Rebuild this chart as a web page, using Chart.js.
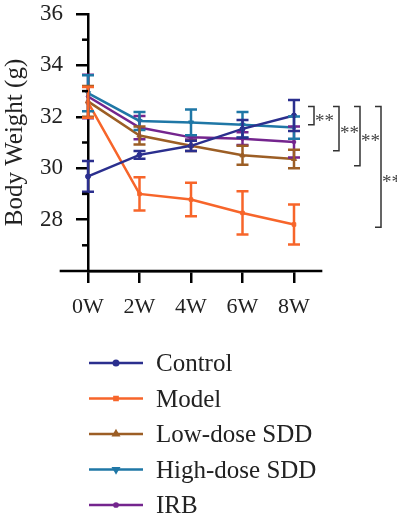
<!DOCTYPE html>
<html>
<head>
<meta charset="utf-8">
<script src="https://cdn.jsdelivr.net/npm/chart.js@4/dist/chart.umd.min.js"></script>
<style>
html,body{margin:0;padding:0;background:#fff;}
canvas{display:block;}
</style>
</head>
<body>
<canvas id="c" width="397" height="521"></canvas>
<script>
// ---- data ----
const weekLabels = ['0W', '2W', '4W', '6W', '8W'];
const seriesNames = ['Control', 'Model', 'Low-dose SDD', 'High-dose SDD', 'IRB'];
const controlMean = [29.68, 30.52, 30.87, 31.53, 32.05];
const controlErr  = [0.60, 0.15, 0.20, 0.35, 0.60];
const modelMean   = [32.56, 29.00, 28.78, 28.26, 27.81];
const modelErr    = [0.60, 0.65, 0.65, 0.84, 0.78];
const lowMean     = [32.60, 31.27, 30.87, 30.50, 30.36];
const lowErr      = [0.60, 0.35, 0.20, 0.37, 0.36];
const highMean    = [32.92, 31.84, 31.78, 31.69, 31.58];
const highErr     = [0.70, 0.35, 0.50, 0.50, 0.43];
const irbMean     = [32.79, 31.58, 31.20, 31.15, 31.02];
const irbErr      = [0.85, 0.45, 0.08, 0.25, 0.60];
const yTickValues = [28, 30, 32, 34, 36];
// significance brackets (data units)
const bracketTop    = [32.4, 32.4, 32.4, 32.4];
const bracketBottom = [31.69, 30.68, 30.10, 27.70];
const bracketStarY  = [32.0, 31.53, 31.2, 29.63];
const bracketText   = ['**', '**', '**', '**'];

// ---- styles ----
const colors = ['#2B2F8E', '#F7652A', '#9C5E25', '#1F77A6', '#74258E'];
const pointStyles = ['circle', 'rect', 'triangle', 'triangle', 'circle'];
const pointRot = [0, 0, 0, 180, 0];
const pointRad = [2.5, 2.5, 3, 3, 1.8];
const SERIF = '"Liberation Serif", "Times New Roman", serif';

const means = [controlMean, modelMean, lowMean, highMean, irbMean];
const errs = [controlErr, modelErr, lowErr, highErr, irbErr];

const datasets = seriesNames.map((name, i) => ({
  label: name,
  data: means[i],
  errors: errs[i],
  borderColor: colors[i],
  backgroundColor: colors[i],
  borderWidth: 2.5,
  pointStyle: pointStyles[i],
  pointRotation: pointRot[i],
  pointRadius: pointRad[i],
  pointBorderWidth: 1,
  tension: 0,
  clip: false,
  order: i
}));

const errorBarPlugin = {
  id: 'errorBars',
  afterDatasetsDraw(chart) {
    const ctx = chart.ctx;
    const xs = chart.scales.x, ys = chart.scales.y;
    for (let d = chart.data.datasets.length - 1; d >= 0; d--) {
      const ds = chart.data.datasets[d];
      ctx.save();
      ctx.strokeStyle = ds.borderColor;
      ctx.lineWidth = 2.5;
      ds.data.forEach((v, i) => {
        const e = ds.errors[i];
        const x = xs.getPixelForValue(i);
        const yt = ys.getPixelForValue(v + e);
        const yb = ys.getPixelForValue(v - e);
        ctx.beginPath();
        ctx.moveTo(x, yt); ctx.lineTo(x, yb);
        ctx.moveTo(x - 6, yt); ctx.lineTo(x + 6, yt);
        ctx.moveTo(x - 6, yb); ctx.lineTo(x + 6, yb);
        ctx.stroke();
      });
      ctx.restore();
    }
  }
};

const axisExtrasPlugin = {
  id: 'axisExtras',
  afterDraw(chart) {
    const ctx = chart.ctx;
    const xs = chart.scales.x, ys = chart.scales.y;
    const area = chart.chartArea;
    ctx.save();
    ctx.strokeStyle = '#000';
    ctx.lineWidth = 2.5;
    // full x axis line, extended half a step beyond both ends
    ctx.beginPath();
    ctx.moveTo(xs.getPixelForValue(-0.55), area.bottom);
    ctx.lineTo(xs.getPixelForValue(weekLabels.length - 1 + 0.55), area.bottom);
    ctx.stroke();
    // minor y ticks
    for (let v = ys.min + 1; v < ys.max; v += 2) {
      const y = ys.getPixelForValue(v);
      ctx.beginPath();
      ctx.moveTo(area.left - 6, y);
      ctx.lineTo(area.left, y);
      ctx.stroke();
    }
    // significance brackets
    const bx = [14, 39, 60, 81];
    ctx.strokeStyle = '#333';
    ctx.lineWidth = 1.5;
    ctx.fillStyle = '#444';
    ctx.font = '19px ' + SERIF;
    ctx.textAlign = 'left';
    ctx.textBaseline = 'alphabetic';
    bracketTop.forEach((t, i) => {
      const x0 = area.right + bx[i];
      const yt = ys.getPixelForValue(t);
      const yb = ys.getPixelForValue(bracketBottom[i]);
      ctx.beginPath();
      ctx.moveTo(x0, yt); ctx.lineTo(x0 + 6, yt); ctx.lineTo(x0 + 6, yb); ctx.lineTo(x0, yb);
      ctx.stroke();
      ctx.fillText(bracketText[i], x0 + 7, ys.getPixelForValue(bracketStarY[i]) + 10);
    });
    // legend
    const lx0 = 89, lx1 = 143, tx = 156;
    const rowY0 = area.bottom + 92, rowStep = 35.5;
    ctx.font = '25px ' + SERIF;
    chart.data.datasets.forEach((ds, i) => {
      const y = rowY0 + i * rowStep;
      ctx.strokeStyle = ds.borderColor;
      ctx.lineWidth = 2.5;
      ctx.beginPath();
      ctx.moveTo(lx0, y); ctx.lineTo(lx1, y);
      ctx.stroke();
      ctx.fillStyle = ds.borderColor;
      Chart.helpers.drawPoint(ctx, {
        pointStyle: ds.pointStyle, rotation: ds.pointRotation, radius: ds.pointRadius * 0.9,
        borderWidth: 1
      }, (lx0 + lx1) / 2, y);
      ctx.fillStyle = '#222';
      ctx.fillText(ds.label, tx, y + 8);
    });
    ctx.restore();
  }
};

new Chart(document.getElementById('c'), {
  type: 'line',
  data: { labels: weekLabels, datasets },
  plugins: [errorBarPlugin, axisExtrasPlugin],
  options: {
    responsive: false,
    animation: false,
    devicePixelRatio: 1,
    layout: { padding: { left: 0, right: 103, top: 14, bottom: 200 } },
    plugins: { legend: { display: false }, tooltip: { enabled: false } },
    scales: {
      x: {
        type: 'category',
        offset: false,
        afterFit(s) { s.height = 50; s.paddingLeft = 0; s.paddingRight = 0; },
        grid: { drawOnChartArea: false, tickLength: 12, color: '#000', lineWidth: 2.5 },
        border: { display: true, color: '#000', width: 2.5 },
        ticks: { font: { family: SERIF, size: 22 }, color: '#222', padding: 11, maxRotation: 0 }
      },
      y: {
        min: 26, max: 36,
        afterFit(s) { s.width = 88; s.paddingTop = 0; s.paddingBottom = 0; },
        afterBuildTicks(s) { s.ticks = [26].concat(yTickValues).map(v => ({ value: v })); },
        title: { display: true, text: 'Body Weight (g)', font: { family: SERIF, size: 25 }, color: '#222', padding: { top: 0, bottom: 0 } },
        grid: {
          drawOnChartArea: false, tickLength: 12, lineWidth: 2.5,
          tickColor: (c) => (c.tick && yTickValues.includes(c.tick.value)) ? '#000' : 'rgba(0,0,0,0)'
        },
        border: { display: true, color: '#000', width: 2.5 },
        ticks: {
          font: { family: SERIF, size: 23 }, color: '#222', padding: 13,
          callback: (v) => yTickValues.includes(v) ? String(v) : ''
        }
      }
    }
  }
});
</script>
</body>
</html>
